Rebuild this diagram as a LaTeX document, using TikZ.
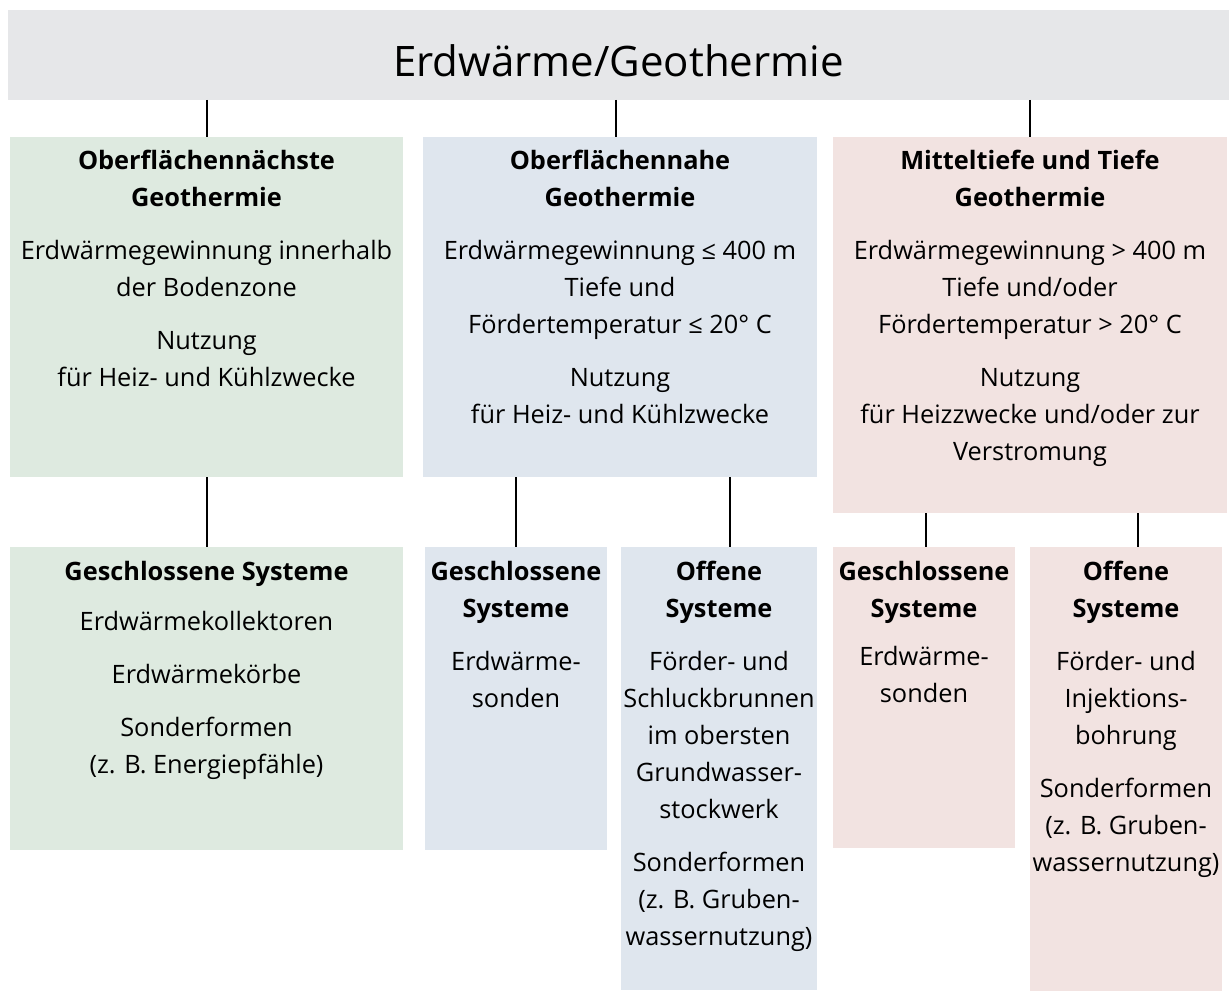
\documentclass[tikz,border=0pt]{standalone}
\usepackage{fontspec}
\setmainfont{Open Sans}
\definecolor{kopfgrau}{HTML}{E6E7E9}
\definecolor{nahgruen}{HTML}{DEEAE0}
\definecolor{nahblau}{HTML}{DFE6EE}
\definecolor{tiefrot}{HTML}{F2E3E1}
\tikzset{
    kasten/.style={anchor=north west, inner sep=0pt, outer sep=0pt},
    beschrift/.style={anchor=north, align=center, inner sep=0pt,
        font=\fontsize{19}{27.75}\selectfont},
    linie/.style={line width=1.5pt, black}
}
\begin{document}
\begin{tikzpicture}[x=0.75pt,y=-0.75pt]
    \useasboundingbox (0,0) rectangle (1229,991);
    % Kopf
    \node[kasten, fill=kopfgrau, minimum width=915.75pt, minimum height=67.5pt] (kopf) at (8,10) {};
    \node[yshift=-4pt] (tkopf) at (kopf.center) {\fontsize{31.5}{36}\selectfont Erdwärme/Geothermie};
    % obere Kästen
    \node[kasten, fill=nahgruen, minimum width=294.75pt, minimum height=255pt] (gruen) at (10,137) {};
    \node[kasten, fill=nahblau, minimum width=295.5pt, minimum height=255pt] (blau) at (423,137) {};
    \node[kasten, fill=tiefrot, minimum width=295.5pt, minimum height=282pt] (rot) at (833,137) {};
    % untere Kästen
    \node[kasten, fill=nahgruen, minimum width=294.75pt, minimum height=227.25pt] (gruenG) at (10,547) {};
    \node[kasten, fill=nahblau, minimum width=136.5pt, minimum height=227.25pt] (blauG) at (425,547) {};
    \node[kasten, fill=nahblau, minimum width=147pt, minimum height=332.25pt] (blauO) at (621,547) {};
    \node[kasten, fill=tiefrot, minimum width=136.5pt, minimum height=225.75pt] (rotG) at (833,547) {};
    \node[kasten, fill=tiefrot, minimum width=144pt, minimum height=333pt] (rotO) at (1030,547) {};
    % Beschriftungen oben
    \node[beschrift, yshift=-10pt] (tgruen) at (gruen.north)
        {\textbf{Oberflächennächste}\\\textbf{Geothermie}\\[12pt]
         Erdwärmegewinnung innerhalb\\der Bodenzone\\[12pt]
         Nutzung\\für Heiz- und Kühlzwecke};
    \node[beschrift, yshift=-10pt] (tblau) at (blau.north)
        {\textbf{Oberflächennahe}\\\textbf{Geothermie}\\[12pt]
         Erdwärmegewinnung ≤ 400 m\\Tiefe und\\Fördertemperatur ≤ 20° C\\[12pt]
         Nutzung\\für Heiz- und Kühlzwecke};
    \node[beschrift, yshift=-10pt] (trot) at (rot.north)
        {\textbf{Mitteltiefe und Tiefe}\\\textbf{Geothermie}\\[12pt]
         Erdwärmegewinnung > 400 m\\Tiefe und/oder\\Fördertemperatur > 20° C\\[12pt]
         Nutzung\\für Heizzwecke und/oder zur\\Verstromung};
    % Beschriftungen unten
    \node[beschrift, yshift=-10.5pt] (tgruenG) at (gruenG.north)
        {\textbf{Geschlossene Systeme}\\[10pt]
         Erdwärmekollektoren\\[12pt]
         Erdwärmekörbe\\[12pt]
         Sonderformen\\(z. B. Energiepfähle)};
    \node[beschrift, yshift=-10.5pt] (tblauG) at (blauG.north)
        {\textbf{Geschlossene}\\\textbf{Systeme}\\[12pt]
         Erdwärme-\\sonden};
    \node[beschrift, yshift=-10.5pt] (tblauO) at (blauO.north)
        {\textbf{Offene}\\\textbf{Systeme}\\[12pt]
         Förder- und\\Schluckbrunnen\\im obersten\\Grundwasser-\\stockwerk\\[12pt]
         Sonderformen\\(z. B. Gruben-\\wassernutzung)};
    \node[beschrift, yshift=-10.5pt] (trotG) at (rotG.north)
        {\textbf{Geschlossene}\\\textbf{Systeme}\\[8pt]
         Erdwärme-\\sonden};
    \node[beschrift, yshift=-10.5pt] (trotO) at (rotO.north)
        {\textbf{Offene}\\\textbf{Systeme}\\[12pt]
         Förder- und\\Injektions-\\bohrung\\[12pt]
         Sonderformen\\(z. B. Gruben-\\wassernutzung)};
    % Verbindungen
    \draw[linie]
    (kopf.south -| gruen.north) -- (gruen.north)
    ([xshift=-3pt]kopf.south -| blau.north) -- ([xshift=-3pt]blau.north)
    (kopf.south -| rot.north) -- (rot.north)
    (gruen.south) -- (gruenG.north)
    (blau.south -| blauG.north) -- (blauG.north)
    ([xshift=8.25pt]blau.south -| blauO.north) -- ([xshift=8.25pt]blauO.north)
    ([xshift=1.5pt]rot.south -| rotG.north) -- ([xshift=1.5pt]rotG.north)
    ([xshift=9pt]rot.south -| rotO.north) -- ([xshift=9pt]rotO.north)
    ;
\end{tikzpicture}
\end{document}
